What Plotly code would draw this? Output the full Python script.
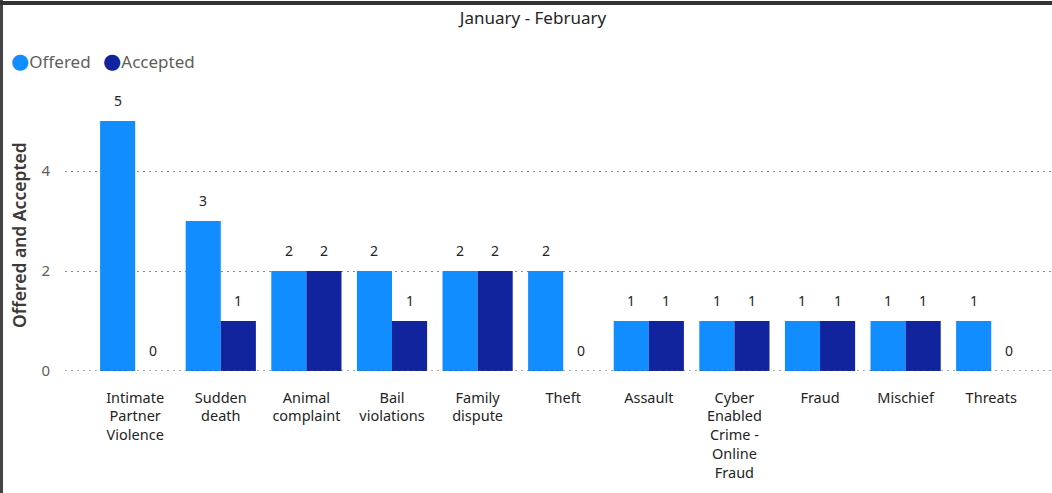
import plotly.graph_objects as go

categories = ["Intimate Partner Violence", "Sudden death", "Animal complaint", "Bail violations",
              "Family dispute", "Theft", "Assault", "Cyber Enabled Crime - Online Fraud",
              "Fraud", "Mischief", "Threats"]
tick_labels = ["Intimate<br>Partner<br>Violence", "Sudden<br>death", "Animal<br>complaint", "Bail<br>violations",
               "Family<br>dispute", "Theft", "Assault", "Cyber<br>Enabled<br>Crime -<br>Online<br>Fraud",
               "Fraud", "Mischief", "Threats"]
offered = [5, 3, 2, 2, 2, 2, 1, 1, 1, 1, 1]
accepted = [0, 1, 2, 1, 2, 0, 1, 1, 1, 1, 0]
series_names = ["Offered", "Accepted"]
y_ticks = [0, 2, 4]

colors = ["#118DFF", "#12239E"]
FONT = "Segoe UI, Noto Sans, DejaVu Sans, sans-serif"

W, H = 1052, 493
ML, MR, MT, MB = 65, 0, 96, 122
pw, ph = W - ML - MR, H - MT - MB

fig = go.Figure()
for name, vals, col in zip(series_names, [offered, accepted], colors):
    fig.add_trace(go.Bar(x=categories, y=vals, name=name, marker_color=col,
                         marker_line_width=0, showlegend=False))

# baseline dotted line at 0
fig.add_shape(type="line", xref="paper", yref="y", x0=0, x1=1, y0=0, y1=0,
              line=dict(color="#555555", width=1, dash="2px,4px"), layer="above")

# data labels
cat_px = pw / 11.53
bar_w = cat_px * (1 - 0.18) / 2
for k, vals in enumerate([offered, accepted]):
    shift = (-0.5 + k) * bar_w
    for c, v in zip(categories, vals):
        fig.add_annotation(x=c, y=v, xref="x", yref="y", text=str(v), showarrow=False,
                           xshift=shift, yshift=9, yanchor="bottom",
                           font=dict(family=FONT, size=14, color="#252423"))

# legend (circle markers)
lx = [9, 101]
for name, col, x0 in zip(series_names, colors, lx):
    fig.add_annotation(xref="paper", yref="paper", x=(x0 - ML) / pw, y=(H - MB - 60) / ph,
                       xanchor="left", yanchor="middle", showarrow=False,
                       text=f"<span style='color:{col};font-size:21px'>●</span>{name}",
                       font=dict(family=FONT, size=17, color="#605E5C"))

# y axis title
fig.add_annotation(xref="paper", yref="paper", x=(19 - ML) / pw, y=(H - MB - 235) / ph,
                   xanchor="center", yanchor="middle", textangle=-90, showarrow=False,
                   text="Offered and Accepted",
                   font=dict(family=FONT, size=17.5, color="#3B3A39", weight=600))

# frame borders
fig.add_shape(type="line", xref="paper", yref="paper",
              x0=(1.5 - ML) / pw, x1=(1.5 - ML) / pw, y0=(H - MB - H) / ph, y1=(H - MB - 0) / ph,
              line=dict(color="#444444", width=3))
fig.add_shape(type="line", xref="paper", yref="paper",
              x0=(0 - ML) / pw, x1=1.0, y0=(H - MB - 3) / ph, y1=(H - MB - 3) / ph,
              line=dict(color="#333333", width=4))

fig.update_layout(
    width=W, height=H,
    margin=dict(l=ML, r=MR, t=MT, b=MB, pad=0),
    paper_bgcolor="white", plot_bgcolor="white",
    barmode="group", bargap=0.18, bargroupgap=0,
    title=dict(text="January - February", x=533 / W, xref="container", xanchor="center",
               y=1 - 18 / H, yref="container", yanchor="middle",
               font=dict(family=FONT, size=17, color="#252423")),
    font=dict(family=FONT),
    xaxis=dict(type="category", range=[-0.82, 10.71], tickvals=categories, ticktext=tick_labels,
               tickangle=0, showgrid=False, showline=False, ticks="", ticklabelstandoff=16,
               tickfont=dict(family=FONT, size=14.5, color="#252423")),
    yaxis=dict(range=[0, 5.5], tickvals=y_ticks, showgrid=True, gridcolor="#8a8a8a",
               griddash="2px,4px", gridwidth=1, zeroline=False, showline=False, ticks="",
               ticklabelstandoff=14,
               tickfont=dict(family=FONT, size=15, color="#605E5C")),
)

fig.write_html("out.html", config={"displayModeBar": False},
               post_script="document.body.style.margin='0';document.body.style.overflow='hidden';")
